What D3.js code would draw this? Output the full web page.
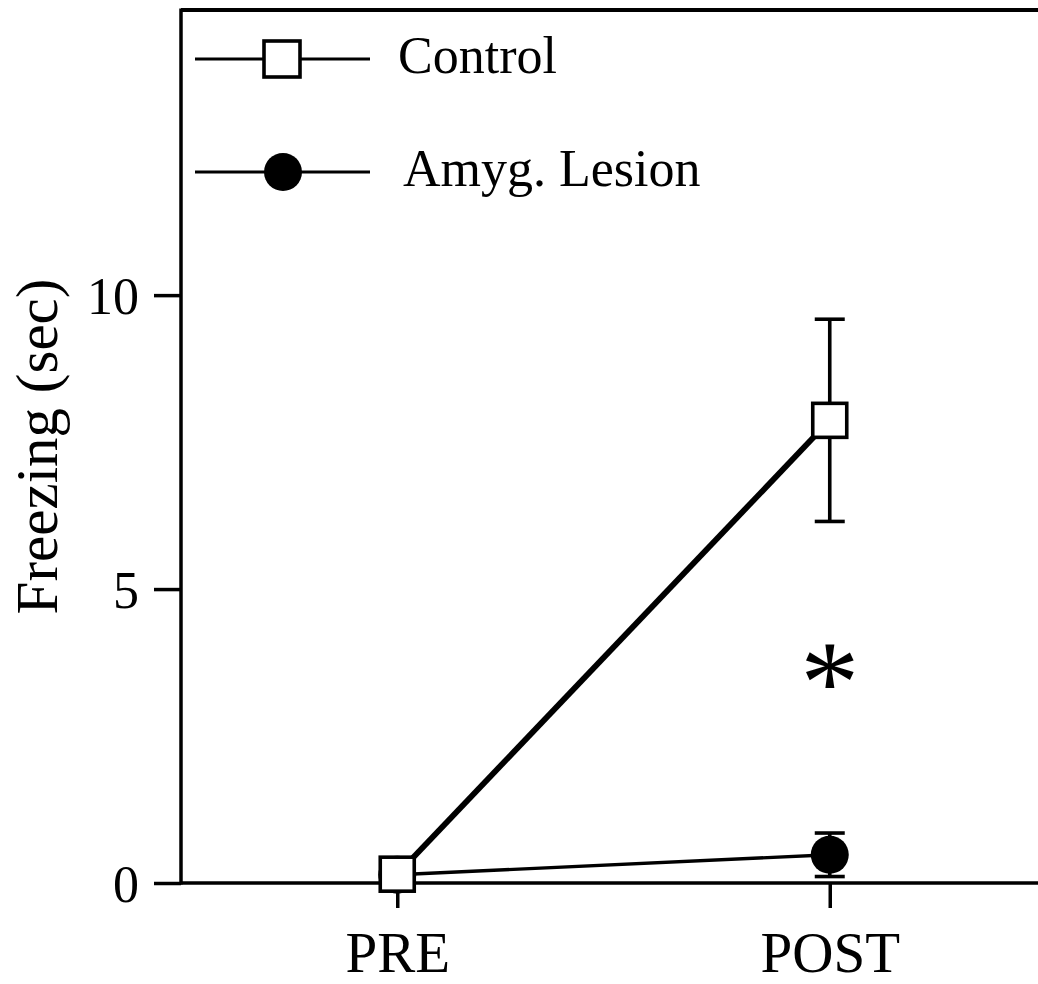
<!DOCTYPE html>
<html>
<head>
<meta charset="utf-8">
<script src="https://cdn.jsdelivr.net/npm/d3@7/dist/d3.min.js"></script>
<style>
  html, body { margin: 0; padding: 0; background: #fff; }
  svg { display: block; }
  text { font-family: "Liberation Serif", "Times New Roman", serif; fill: #000; }
</style>
</head>
<body>
<svg id="chart" width="1038" height="984"></svg>
<script>
// Test phases on the x axis
const phases = ["PRE", "POST"];

// Mean freezing time (sec) and SEM for each group
const controlMean = [0.15, 7.87];
const controlSem  = [0.0, 1.72];
const lesionMean  = [0.14, 0.48];
const lesionSem   = [0.0, 0.37];

const yTicks = [0, 5, 10];
const seriesNames = ["Control", "Amyg. Lesion"];
const yLabel = "Freezing (sec)";
const signifMark = "*";

const W = 1038, H = 984;
const plotLeft = 181, plotTop = 10, plotBottom = 883;
const yMax = 14.85;

const svg = d3.select("#chart");

const x = d3.scalePoint().domain(phases).range([plotLeft, 1046]).padding(0.5);
const y = d3.scaleLinear().domain([0, yMax]).range([plotBottom, plotTop]);

// Axes
const yAxis = d3.axisLeft(y).tickValues(yTicks).tickSize(27).tickPadding(15).tickSizeOuter(0);
const gy = svg.append("g").attr("transform", `translate(${plotLeft},0)`).call(yAxis);
gy.select(".domain").remove();
gy.selectAll(".tick line").attr("stroke", "#000").attr("stroke-width", 3.5);
gy.selectAll(".tick text").attr("font-size", 52).attr("dy", "0.35em");

const xAxis = d3.axisBottom(x).tickSize(25).tickSizeOuter(0);
const gx = svg.append("g").attr("transform", `translate(0,${plotBottom})`).call(xAxis);
gx.select(".domain").remove();
gx.selectAll(".tick line").attr("stroke", "#000").attr("stroke-width", 3.5);
gx.selectAll(".tick text").attr("font-size", 57).attr("dy", null).attr("y", 89);

// Frame: left, top and bottom borders
const frame = svg.append("g").attr("stroke", "#000").attr("fill", "none");
frame.append("line").attr("x1", plotLeft).attr("x2", plotLeft).attr("y1", plotTop - 1.5).attr("y2", plotBottom + 1.5).attr("stroke-width", 3.5);
frame.append("line").attr("x1", plotLeft).attr("x2", W).attr("y1", plotTop).attr("y2", plotTop).attr("stroke-width", 4);
frame.append("line").attr("x1", plotLeft).attr("x2", W).attr("y1", plotBottom).attr("y2", plotBottom).attr("stroke-width", 3.5);

// Y axis title
svg.append("text")
  .attr("transform", `translate(57,${(273 + 620) / 2}) rotate(-90)`)
  .attr("text-anchor", "middle")
  .attr("font-size", 59)
  .text(yLabel);

// Group lines
const line = d3.line().x((d, i) => x(phases[i])).y(d => y(d));
svg.append("path").datum(lesionMean).attr("d", line)
  .attr("fill", "none").attr("stroke", "#000").attr("stroke-width", 3.4);
svg.append("path").datum(controlMean).attr("d", line)
  .attr("fill", "none").attr("stroke", "#000").attr("stroke-width", 5.8);

// Error bars
function errorBars(means, sems) {
  const g = svg.append("g").attr("stroke", "#000").attr("stroke-width", 3.6);
  means.forEach((m, i) => {
    if (!sems[i]) return;
    const cx = x(phases[i]);
    const hi = y(m + sems[i]), lo = y(m - sems[i]);
    g.append("line").attr("x1", cx).attr("x2", cx).attr("y1", hi).attr("y2", lo);
    g.append("line").attr("x1", cx - 15).attr("x2", cx + 15).attr("y1", hi).attr("y2", hi);
    g.append("line").attr("x1", cx - 15).attr("x2", cx + 15).attr("y1", lo).attr("y2", lo);
  });
}
errorBars(lesionMean, lesionSem);
errorBars(controlMean, controlSem);

// Markers
svg.append("g").selectAll("circle").data(lesionMean).join("circle")
  .attr("cx", (d, i) => x(phases[i])).attr("cy", d => y(d)).attr("r", 19).attr("fill", "#000");
const sq = 34;
svg.append("g").selectAll("rect").data(controlMean).join("rect")
  .attr("x", (d, i) => x(phases[i]) - sq / 2).attr("y", d => y(d) - sq / 2)
  .attr("width", sq).attr("height", sq)
  .attr("fill", "#fff").attr("stroke", "#000").attr("stroke-width", 3.6);

// Significance mark
svg.append("text")
  .attr("x", x("POST")).attr("y", 722)
  .attr("text-anchor", "middle")
  .attr("font-size", 118)
  .text(signifMark);

// Legend
const legend = svg.append("g");
const legRows = [{ name: seriesNames[0], y: 59, type: "square" }, { name: seriesNames[1], y: 172, type: "circle" }];
legRows.forEach(r => {
  legend.append("line").attr("x1", 195).attr("x2", 370).attr("y1", r.y).attr("y2", r.y)
    .attr("stroke", "#000").attr("stroke-width", 3.2);
  if (r.type === "square") {
    legend.append("rect").attr("x", 282 - 18).attr("y", r.y - 18).attr("width", 36).attr("height", 36)
      .attr("fill", "#fff").attr("stroke", "#000").attr("stroke-width", 3.6);
  } else {
    legend.append("circle").attr("cx", 283).attr("cy", r.y).attr("r", 19).attr("fill", "#000");
  }
  legend.append("text").attr("x", r.type === "square" ? 398 : 403).attr("y", r.y + 14)
    .attr("font-size", 52).text(r.name);
});
</script>
</body>
</html>
